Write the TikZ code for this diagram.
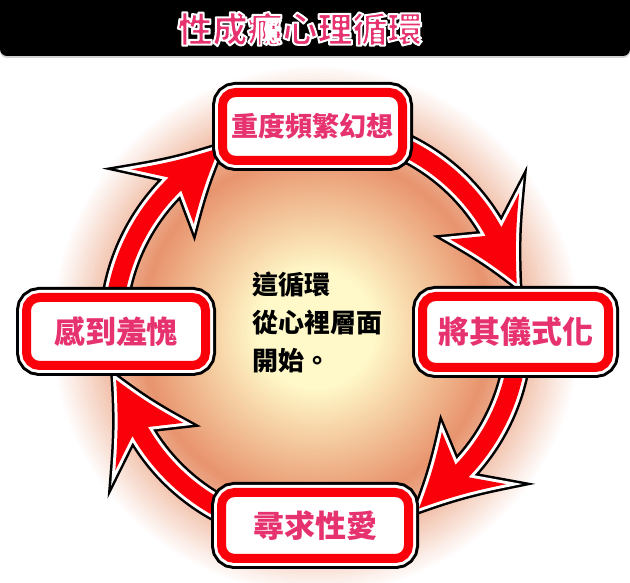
\documentclass[tikz,border=0pt]{standalone}
\usepackage{fontspec}
\newfontfamily\cjk{Noto Sans CJK TC}
\definecolor{cS}{RGB}{232,148,110}
\definecolor{cY}{RGB}{255,248,200}
\definecolor{cred}{RGB}{250,0,10}
\definecolor{cpink}{RGB}{230,50,110}
\newcommand\outl[2]{\special{pdf:code q 2 Tr #1 w 1 j 1 1 1 RG}#2\special{pdf:code Q}}
\newcommand\cyclearrow[2]{%
  \pgfmathsetmacro\arrN{#2+16}%
  \pgfmathsetmacro\arrB{#2+21}%
  \path[arrowshape] (#1:212) arc[start angle=#1, end angle=\arrN, radius=212]
    -- (\arrB:245) to[bend right=4] (#2:206) to[bend right=4] (\arrB:162) -- (\arrN:194)
    arc[start angle=\arrN, end angle=#1, radius=194] -- cycle;
}
\tikzset{
  arrowshape/.style={fill=cred, line join=round,
    preaction={draw=black, line width=11pt},
    preaction={draw=white, line width=6pt}},
  cbox/.style={rectangle, rounded corners=13pt, fill=white, draw=cred,
    line width=9pt, inner sep=0pt,
    preaction={draw=black, line width=21pt},
    preaction={draw=white, line width=15pt},
    font=\cjk\bfseries\fontsize{31}{31}\selectfont, text=cpink},
  centertext/.style={align=left, inner sep=0pt, text=black,
    font=\cjk\bfseries\fontsize{26}{38}\selectfont},
}
\begin{document}
\begin{tikzpicture}[x=1pt,y=1pt]
\useasboundingbox (0,0) rectangle (630,583);
\fill[white] (0,0) rectangle (630,583);
% glow
\coordinate (C) at (316,253);
\begin{scope}[shift={(C)}]
  \foreach \r in {266,263,...,177} {
    \pgfmathsetmacro\pp{(266-\r)/0.9}
    \fill[cS!\pp!white] (0,0) circle (\r);
  }
  \foreach \r in {175,173,...,3} {
    \pgfmathsetmacro\pp{min(100,(175-\r)/1.15)}
    \fill[cY!\pp!cS] (0,0) circle (\r);
  }
  % arrows
  \cyclearrow{70}{13}
  \cyclearrow{-5}{-60}
  \cyclearrow{245}{194}
  \cyclearrow{175}{118}
\end{scope}
% title bar
\fill[gray!35, rounded corners=7pt] (0,525) rectangle (630,600);
\fill[black, rounded corners=7pt] (0,527) rectangle (630,600);
\node[font=\cjk\bfseries\fontsize{35}{35}\selectfont, text=cpink, inner sep=0pt] (title) at (300,554) {\outl{2}{性成癮心理循環}};
% boxes
\node[cbox, minimum width=180pt, minimum height=68pt, font=\cjk\bfseries\fontsize{27}{27}\selectfont] (fantasy) at (312.5,456.5) {重度頻繁幻想};
\node[cbox, minimum width=186pt, minimum height=71pt] (ritual) at (515.5,251) {將其儀式化};
\node[cbox, minimum width=187pt, minimum height=66pt] (seek) at (315,57.5) {尋求性愛};
\node[cbox, minimum width=179pt, minimum height=68pt] (shame) at (116,251.5) {感到羞愧};
% centre text
\node[centertext, anchor=north west] (msg) at (252,311) {這循環\\從心裡層面\\開始。};
\end{tikzpicture}
\end{document}
